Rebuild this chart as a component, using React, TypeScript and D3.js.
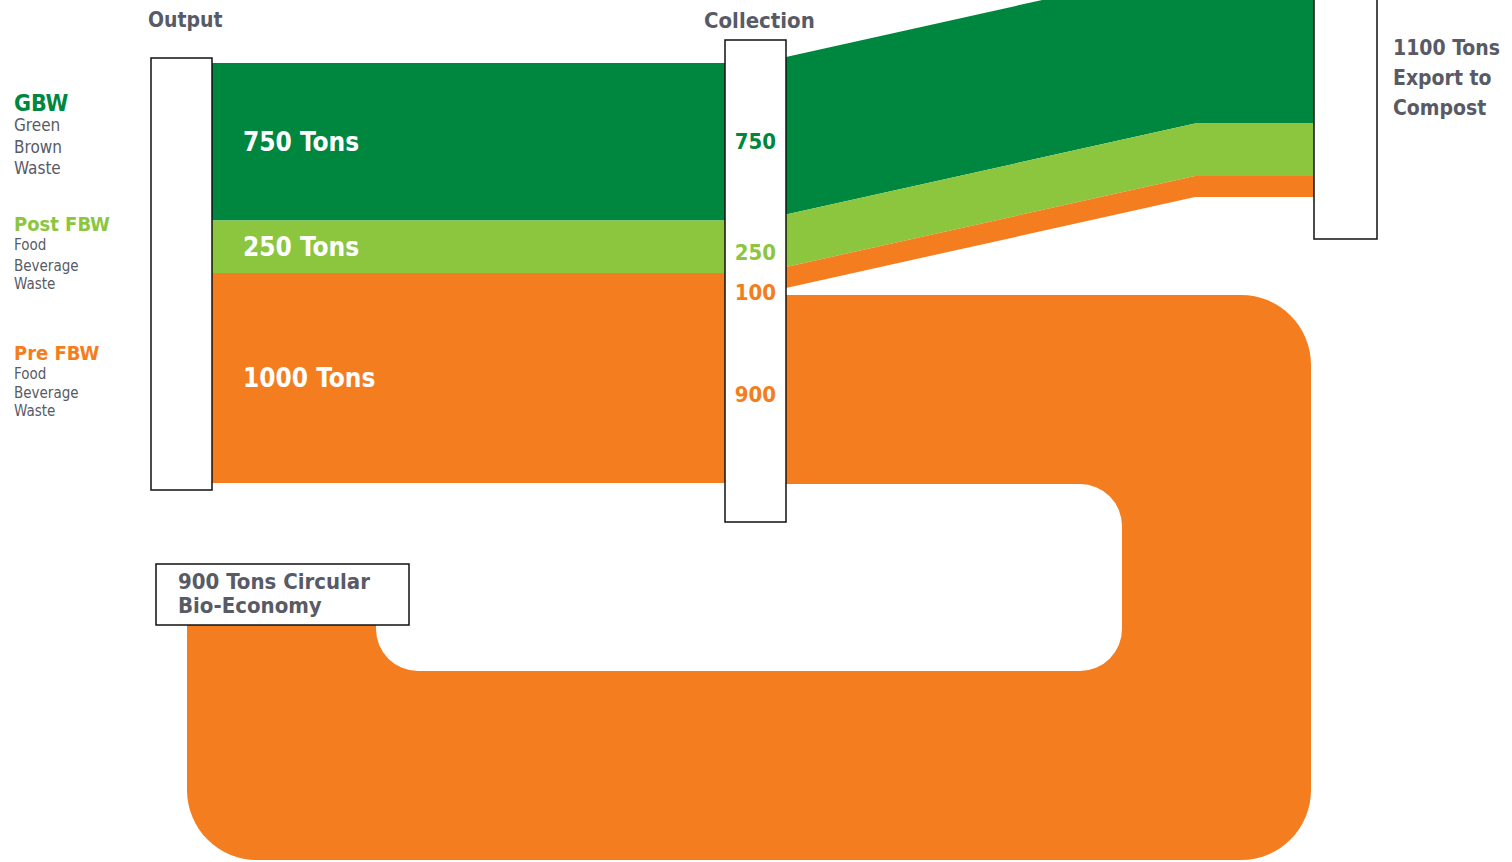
import React from 'react';
import * as d3 from 'd3';

// ---- data ----
const categories = ['GBW', 'Post FBW', 'Pre FBW'];
const categorySub = [
  ['Green', 'Brown', 'Waste'],
  ['Food', 'Beverage', 'Waste'],
  ['Food', 'Beverage', 'Waste'],
];
const outputTons = [750, 250, 1000];
const compostTons = [750, 250, 100];
const circularTons = 900;
const compostTotal = 1100;
const bandLabels = ['750 Tons', '250 Tons', '1000 Tons'];
const collectionLabels = ['750', '250', '100', '900'];
const compostLabel = ['1100 Tons', 'Export to', 'Compost'];
const circularLabel = ['900 Tons Circular', 'Bio-Economy'];
const colors = ['#00873F', '#8CC63F', '#F47D20'];

const W = 1512;
const H = 862;
const FONT = "'Liberation Sans Narrow', 'DejaVu Sans Condensed', 'Roboto', sans-serif";
const GRAY = '#585a66';

export default function App() {
  const k = d3.scaleLinear().domain([0, 2000]).range([0, 420]);

  // node layout
  const outX = 151, outW = 61, outY0 = 58, outY1 = 490;
  const colX = 725, colW = 61, colY0 = 40, colY1 = 522;
  const cmpX = 1314, cmpW = 63, cmpY0 = -10, cmpY1 = 239;
  const bendX = 1195;

  // output -> collection stacks
  const inTop = 63;
  const inCum = [0, ...d3.cumsum(outputTons)];
  const inBands = outputTons.map((v, i) => ({ y0: inTop + k(inCum[i]), y1: inTop + k(inCum[i + 1]), v }));

  // collection -> compost stacks
  const outTop = 57;
  const outCum = [0, ...d3.cumsum(compostTons)];
  const cmpBottom = 197;
  const cmpTop = cmpBottom - k(compostTotal);
  const outBands = compostTons.map((v, i) => ({
    a0: outTop + k(outCum[i]),
    a1: outTop + k(outCum[i + 1]),
    b0: cmpTop + k(outCum[i]),
    b1: cmpTop + k(outCum[i + 1]),
  }));

  const area = d3
    .area<{ x: number; y0: number; y1: number }>()
    .x((d) => d.x)
    .y0((d) => d.y0)
    .y1((d) => d.y1)
    .curve(d3.curveLinear);

  // circular loop
  const w = k(circularTons);
  const yA = outTop + k(outCum[3]) + 7;
  const yB = yA + w;
  const xOR = 1311;
  const xIR = xOR - w;
  const yOB = 860;
  const yIB = yOB - w;
  const xOL = 187;
  const xIL = xOL + w;
  const yEnd = 625;
  const rO = 70;
  const rI = 42;
  const p = d3.path();
  p.moveTo(colX + colW, yA);
  p.lineTo(xOR - rO, yA);
  p.arcTo(xOR, yA, xOR, yA + rO, rO);
  p.lineTo(xOR, yOB - rO);
  p.arcTo(xOR, yOB, xOR - rO, yOB, rO);
  p.lineTo(xOL + rO, yOB);
  p.arcTo(xOL, yOB, xOL, yOB - rO, rO);
  p.lineTo(xOL, yEnd);
  p.lineTo(xIL, yEnd);
  p.lineTo(xIL, yIB - rI);
  p.arcTo(xIL, yIB, xIL + rI, yIB, rI);
  p.lineTo(xIR - rI, yIB);
  p.arcTo(xIR, yIB, xIR, yIB - rI, rI);
  p.lineTo(xIR, yB + rI);
  p.arcTo(xIR, yB, xIR - rI, yB, rI);
  p.lineTo(colX + colW, yB);
  p.closePath();

  const colLabelY = [
    (inBands[0].y0 + inBands[0].y1) / 2,
    (inBands[1].y0 + inBands[1].y1) / 2 + 6,
    inBands[2].y0 + k(compostTons[2]) / 2 + 9,
    inBands[2].y0 + k(compostTons[2]) + w / 2 + 6,
  ];
  const colLabelColor = [colors[0], colors[1], colors[2], colors[2]];

  const legendY = [103, 224, 353];
  const legendSize = [23, 20, 20];
  const subY = [
    [125, 147, 168],
    [245, 266, 284],
    [374, 393, 411],
  ];
  const subSize = [17, 15, 15];

  return (
    <svg
      width={W}
      height={H}
      style={{ position: 'absolute', left: 0, top: 0, background: '#fff' }}
      fontFamily={FONT}
    >
      {/* output -> collection */}
      {inBands.map((b, i) => (
        <rect key={'in' + i} x={outX + outW} y={b.y0} width={colX - outX - outW} height={b.y1 - b.y0} fill={colors[i]} />
      ))}
      {/* collection -> compost */}
      {outBands.map((b, i) => (
        <path
          key={'out' + i}
          d={
            area([
              { x: colX + colW, y0: b.a0, y1: b.a1 },
              { x: bendX, y0: b.b0, y1: b.b1 },
              { x: cmpX, y0: b.b0, y1: b.b1 },
            ]) || ''
          }
          fill={colors[i]}
        />
      ))}
      {/* circular loop */}
      <path d={p.toString()} fill={colors[2]} />

      {/* nodes */}
      <rect x={outX} y={outY0} width={outW} height={outY1 - outY0} fill="#fff" stroke="#111" strokeWidth={1.5} />
      <rect x={colX} y={colY0} width={colW} height={colY1 - colY0} fill="#fff" stroke="#111" strokeWidth={1.5} />
      <rect x={cmpX} y={cmpY0} width={cmpW} height={cmpY1 - cmpY0} fill="#fff" stroke="#111" strokeWidth={1.5} />
      <rect x={156} y={564} width={253} height={yEnd - 564} fill="#fff" stroke="#111" strokeWidth={1.5} />

      {/* headers */}
      <text x={148} y={20} dominantBaseline="central" fontSize={21} fontWeight="bold" fill={GRAY}>Output</text>
      <text x={704} y={20} dominantBaseline="central" fontSize={22} fontWeight="bold" fill={GRAY}>Collection</text>

      {/* band labels */}
      {inBands.map((b, i) => (
        <text key={'bl' + i} x={243} y={(b.y0 + b.y1) / 2} dominantBaseline="central" fontSize={26} fontWeight="bold" fill="#fff">
          {bandLabels[i]}
        </text>
      ))}

      {/* collection labels */}
      {collectionLabels.map((t, i) => (
        <text key={'cl' + i} x={colX + colW / 2} y={colLabelY[i]} textAnchor="middle" dominantBaseline="central" fontSize={22} fontWeight="bold" fill={colLabelColor[i]}>
          {t}
        </text>
      ))}

      {/* legend */}
      {categories.map((c, i) => (
        <g key={'lg' + i}>
          <text x={14} y={legendY[i]} dominantBaseline="central" fontSize={legendSize[i]} fontWeight="bold" fill={colors[i]}>
            {c}
          </text>
          {categorySub[i].map((s, j) => (
            <text key={j} x={14} y={subY[i][j]} dominantBaseline="central" fontSize={subSize[i]} fill={GRAY}>
              {s}
            </text>
          ))}
        </g>
      ))}

      {/* compost label */}
      {compostLabel.map((t, i) => (
        <text key={'cp' + i} x={1393} y={48 + i * 30} dominantBaseline="central" fontSize={21} fontWeight="bold" fill={GRAY}>
          {t}
        </text>
      ))}

      {/* circular label */}
      {circularLabel.map((t, i) => (
        <text key={'cb' + i} x={178} y={581 + i * 24} dominantBaseline="central" fontSize={22} fontWeight="bold" fill={GRAY}>
          {t}
        </text>
      ))}
    </svg>
  );
}
